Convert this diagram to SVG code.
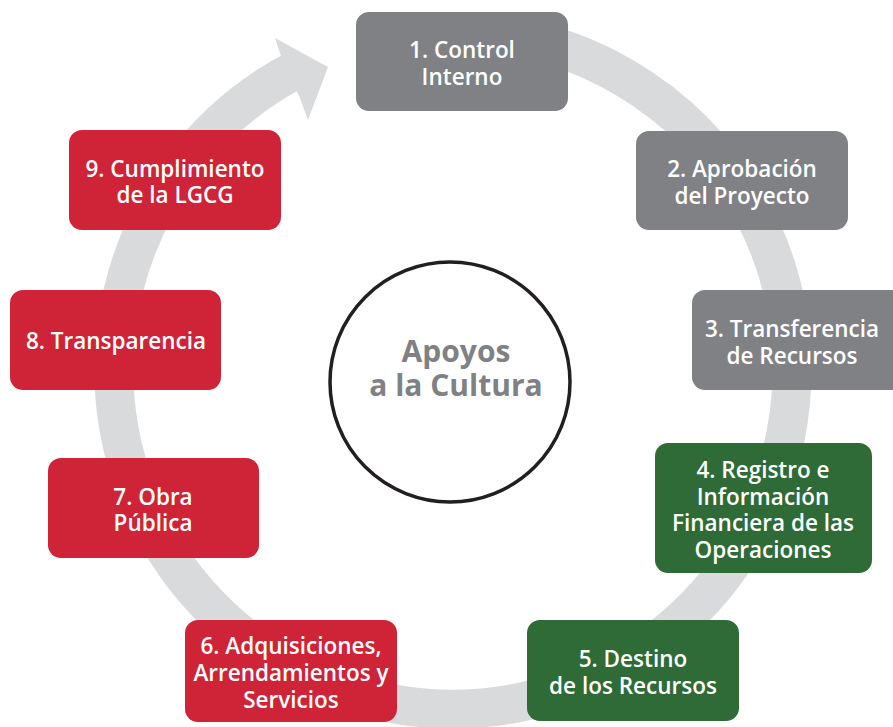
<svg xmlns="http://www.w3.org/2000/svg" width="893" height="727" viewBox="0 0 893 727">
<style>
.ring{fill:none;stroke:#d9dadb;stroke-width:39}
.head{fill:#d9dadb}
.box{stroke:none}
.g{fill:#808184}
.r{fill:#cf2338}
.gr{fill:#2e6b36}
.t{font-family:"Open Sans","Noto Sans","Liberation Sans",sans-serif;font-size:22.5px;font-weight:600;fill:#ffffff;text-anchor:middle}
.c{font-family:"Open Sans","Noto Sans","Liberation Sans",sans-serif;font-size:30px;font-weight:700;fill:#808184;text-anchor:middle}
</style>
<rect width="893" height="727" fill="#ffffff"/>
<g id="connectors">
<path class="ring" d="M 482.5 32.3 A 339 339 0 1 1 299 68"/>
<polygon class="head" points="283,62 275,38 328,67 308,120 300,98"/>
</g>
<g id="center">
<circle cx="450" cy="382" r="120" fill="#ffffff" stroke="#231f20" stroke-width="3.5"/>
<text class="c" x="456" y="362">Apoyos</text>
<text class="c" x="456" y="396">a la Cultura</text>
</g>
<g id="n1">
<rect class="box g" x="356" y="12" width="212" height="99" rx="13"/>
<text class="t" x="462" y="58">1. Control</text>
<text class="t" x="462" y="85">Interno</text>
</g>
<g id="n2">
<rect class="box g" x="636" y="131" width="212" height="99" rx="13"/>
<text class="t" x="742" y="177">2. Aprobación</text>
<text class="t" x="742" y="204">del Proyecto</text>
</g>
<g id="n3">
<rect class="box g" x="692" y="290" width="214" height="100" rx="13"/>
<text class="t" x="792" y="337">3. Transferencia</text>
<text class="t" x="792" y="364">de Recursos</text>
</g>
<g id="n4">
<rect class="box gr" x="655" y="443" width="217" height="130" rx="13"/>
<text class="t" x="763" y="478">4. Registro e</text>
<text class="t" x="763" y="505">Información</text>
<text class="t" x="763" y="531">Financiera de las</text>
<text class="t" x="763" y="558">Operaciones</text>
</g>
<g id="n5">
<rect class="box gr" x="527" y="620" width="212" height="101" rx="13"/>
<text class="t" x="633" y="667">5. Destino</text>
<text class="t" x="633" y="694">de los Recursos</text>
</g>
<g id="n6">
<rect class="box r" x="185" y="620" width="212" height="102" rx="13"/>
<text class="t" x="291" y="654">6. Adquisiciones,</text>
<text class="t" x="291" y="681">Arrendamientos y</text>
<text class="t" x="291" y="708">Servicios</text>
</g>
<g id="n7">
<rect class="box r" x="48" y="458" width="211" height="100" rx="13"/>
<text class="t" x="153" y="505">7. Obra</text>
<text class="t" x="153" y="531">Pública</text>
</g>
<g id="n8">
<rect class="box r" x="10" y="290" width="211" height="100" rx="13"/>
<text class="t" x="116" y="349">8. Transparencia</text>
</g>
<g id="n9">
<rect class="box r" x="69" y="130" width="212" height="100" rx="13"/>
<text class="t" x="175" y="177">9. Cumplimiento</text>
<text class="t" x="175" y="203">de la LGCG</text>
</g>
</svg>
